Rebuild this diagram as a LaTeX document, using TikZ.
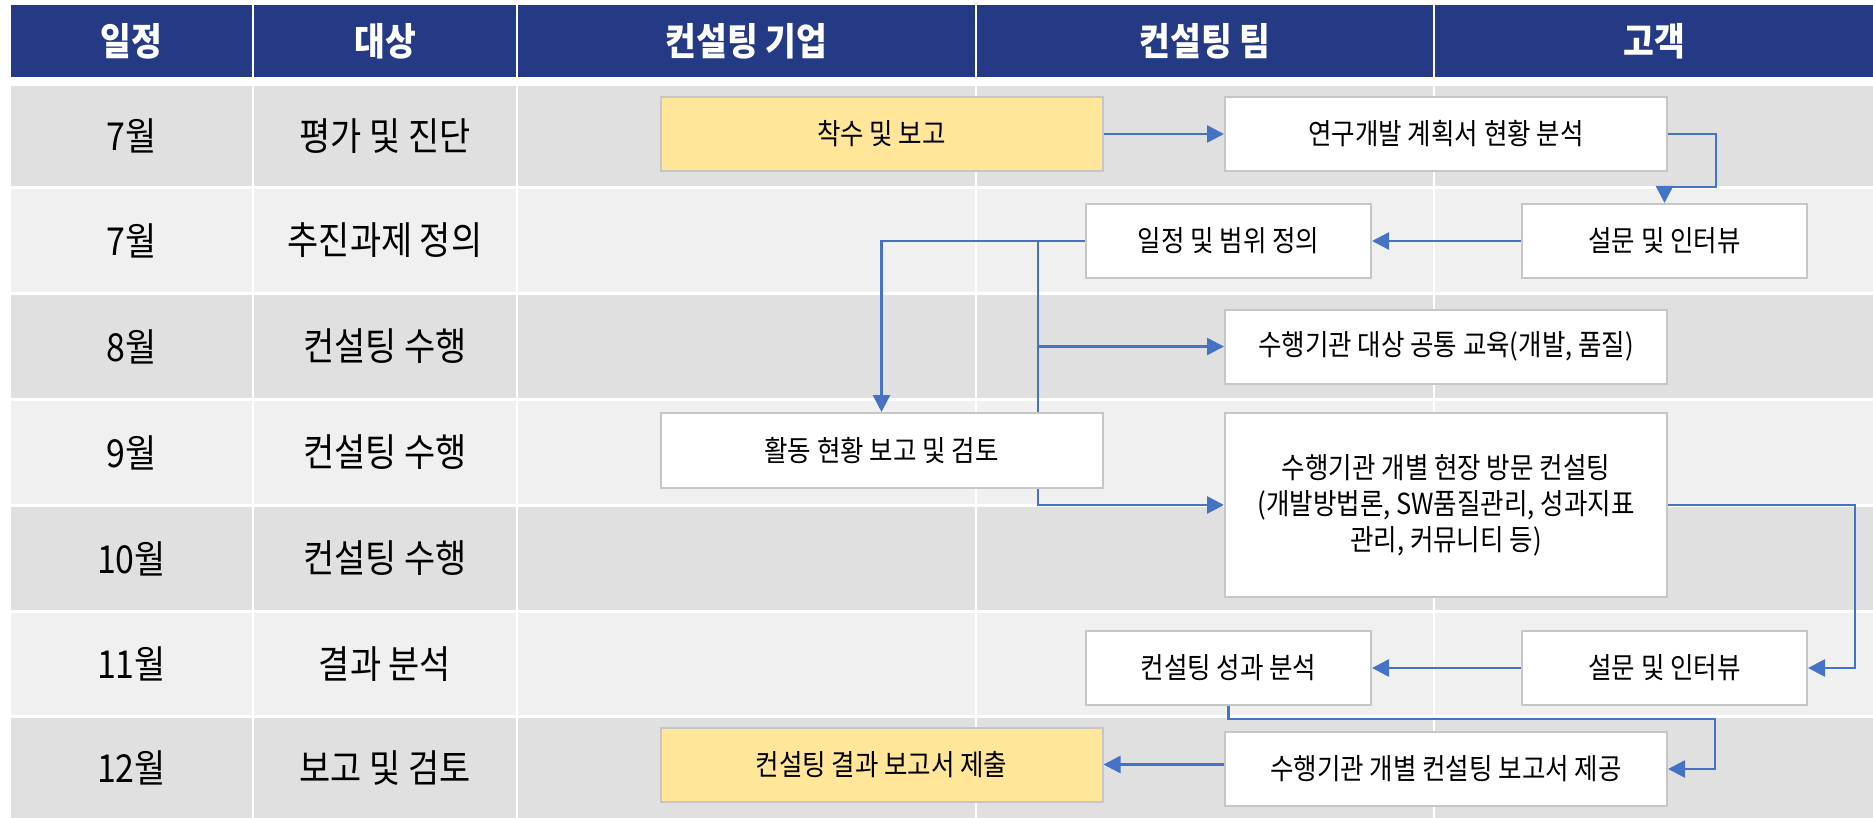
\documentclass[tikz,border=0pt]{standalone}
\usepackage{fontspec}
\setmainfont[FakeStretch=0.88]{Noto Sans CJK KR}
\usepackage{xcolor}
\usetikzlibrary{arrows.meta,positioning}

\definecolor{headblue}{HTML}{253A84}
\definecolor{rowdark}{HTML}{E0E0E0}
\definecolor{rowlight}{HTML}{F0F0F0}
\definecolor{reportyellow}{HTML}{FFE699}
\definecolor{flowblue}{HTML}{4472C4}
\definecolor{boxline}{HTML}{C6C6C6}

\pgfdeclarelayer{table}
\pgfdeclarelayer{lines}
\pgfsetlayers{table,lines,main}

\tikzset{
    headcell/.style={fill=headblue, text=white, inner sep=0pt, minimum height=72pt,
        font=\fontsize{38}{42}\selectfont\bfseries},
    rowcell/.style={inner sep=0pt, minimum height=100pt, font=\fontsize{38.5}{42}\selectfont},
    taskbox/.style={draw=boxline, line width=2pt, fill=white, inner sep=0pt,
        minimum width=442pt, minimum height=74pt, align=center,
        font=\fontsize{29}{36}\selectfont},
    smallbox/.style={taskbox, minimum width=285pt},
    flow/.style={draw=flowblue, line width=2.7pt, -{Triangle[length=17pt,width=17pt]}},
}

\begin{document}
\begin{tikzpicture}[x=1pt, y=-1pt]
    \useasboundingbox (0, 0) rectangle (1873, 818);

    \begin{pgfonlayer}{table}
    \node[headcell, minimum width=241pt] (hdate) at (131.5, 41) {일정};
    \node[headcell, minimum width=262pt] (htarget) at (385, 41) {대상};
    \node[headcell, minimum width=457pt] (hfirm) at (746.5, 41) {컨설팅 기업};
    \node[headcell, minimum width=456pt] (hteam) at (1205, 41) {컨설팅 팀};
    \node[headcell, minimum width=438pt] (hclient) at (1654, 41) {고객};

    \foreach \i/\top/\bot/\shade/\month/\target in {
        1/86/186/rowdark/7월/평가 및 진단,
        2/189/292/rowlight/7월/추진과제 정의,
        3/295/398/rowdark/8월/컨설팅 수행,
        4/401/504/rowlight/9월/컨설팅 수행,
        5/507/610/rowdark/10월/컨설팅 수행,
        6/613/715/rowlight/11월/결과 분석,
        7/718/818/rowdark/12월/보고 및 검토} {
        \fill[\shade] (11, \top) rectangle (252, \bot);
        \fill[\shade] (254, \top) rectangle (516, \bot);
        \fill[\shade] (518, \top) rectangle (975, \bot);
        \fill[\shade] (977, \top) rectangle (1433, \bot);
        \fill[\shade] (1435, \top) rectangle (1873, \bot);
        \node[rowcell] (month\i) at (131.5, {(\top+\bot)/2}) {\month};
        \node[rowcell] (target\i) at (385, {(\top+\bot)/2}) {\target};
    }
    \end{pgfonlayer}

    \node[taskbox, fill=reportyellow] (kickoff) at (881.5, 134) {착수 및 보고};

    \node[taskbox] (plan) at (1446, 134) {연구개발 계획서 현황 분석};

    \node[smallbox] (survey1) at (1664.5, 241) {설문 및 인터뷰};

    \node[smallbox] (scope) at (1228.5, 241) {일정 및 범위 정의};

    \node[taskbox] (training) at (1446, 346.5) {수행기관 대상 공통 교육(개발, 품질)};

    \node[taskbox, minimum height=75pt] (review) at (881.5, 450.5) {활동 현황 보고 및 검토};

    \node[taskbox, minimum height=184pt] (visit) at (1446, 505) {수행기관 개별 현장 방문 컨설팅\\(개발방법론, SW품질관리, 성과지표\\관리, 커뮤니티 등)};

    \node[smallbox] (survey2) at (1664.5, 668) {설문 및 인터뷰};

    \node[smallbox] (outcome) at (1228.5, 668) {컨설팅 성과 분석};

    \node[taskbox, fill=reportyellow] (submit) at (881.5, 764.5) {컨설팅 결과 보고서 제출};

    \node[taskbox] (deliver) at (1446, 769) {수행기관 개별 컨설팅 보고서 제공};

    \coordinate (split) at (1038, 241);

    \begin{pgfonlayer}{lines}
    \draw[flow] (kickoff) to (plan);

    \draw[flow] (plan.east) -- ++(48, 0) -- ++(0, 53) -| (survey1.north);

    \draw[flow] (survey1) to (scope);

    \draw[flow] (scope.west) -| (review.north);

    \draw[flow] (split) |- (training.west);

    \draw[flow] (split) |- (visit.west);

    \draw[flow] (visit.east) -- ++(187, 0) |- (survey2.east);

    \draw[flow] (survey2) to (outcome);

    \draw[flow] (outcome.south) -- ++(0, 13) -- ++(486.5, 0) |- (deliver.east);

    \draw[flow] (deliver.west |- submit.east) to (submit.east);
    \end{pgfonlayer}
\end{tikzpicture}
\end{document}
